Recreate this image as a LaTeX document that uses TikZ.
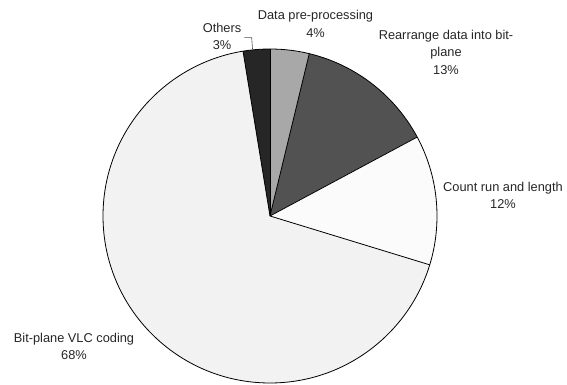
\documentclass[tikz,border=0pt]{standalone}
\usepackage{fontspec}
\setmainfont{Liberation Sans}
\begin{document}
\begin{tikzpicture}[x=1pt,y=1pt,
  slice/.style={draw=black,line width=0.8pt,line join=round},
  lbl/.style={align=center,inner sep=0pt,font=\fontsize{12.8}{17.5}\selectfont,text=black!85},
  leader/.style={draw=black!70,line width=0.6pt}]
\useasboundingbox (0,0) rectangle (567,385);
\def\R{167}
\coordinate (c) at (270,169);
% pie slices, clockwise from the top
\fill[black!34] (c) -- ++(90:\R) arc[start angle=90,end angle=76.4,radius=\R] -- cycle;
\fill[black!68] (c) -- ++(76.4:\R) arc[start angle=76.4,end angle=28.2,radius=\R] -- cycle;
\fill[black!1.5] (c) -- ++(28.2:\R) arc[start angle=28.2,end angle=-17,radius=\R] -- cycle;
\fill[black!5] (c) -- ++(-17:\R) arc[start angle=-17,end angle=-260.7,radius=\R] -- cycle;
\fill[black!85] (c) -- ++(-260.7:\R) arc[start angle=-260.7,end angle=-270,radius=\R] -- cycle;
% outlines
\draw[slice] (c) circle[radius=\R];
\foreach \a in {90,76.4,28.2,-17,99.3} \draw[slice] (c) -- ++(\a:\R);
% labels
\node[lbl] (others) at (222,348.5) {Others\\3\%};
\node[lbl] (prep) at (315.5,361) {Data pre-processing\\4\%};
\node[lbl] (rearr) at (446,333) {Rearrange data into bit-\\plane\\13\%};
\node[lbl] (count) at (503,189.5) {Count run and length\\12\%};
\node[lbl] (vlc) at (74,38.5) {Bit-plane VLC coding\\68\%};
% leader line of the small slice
\coordinate (ot1) at (244.3,347.3);
\coordinate (ot2) at (251.7,347.3);
\coordinate (ot3) at (252.5,336.2);
\draw[leader] (ot1) -- (ot2) -- (ot3);
\end{tikzpicture}
\end{document}
